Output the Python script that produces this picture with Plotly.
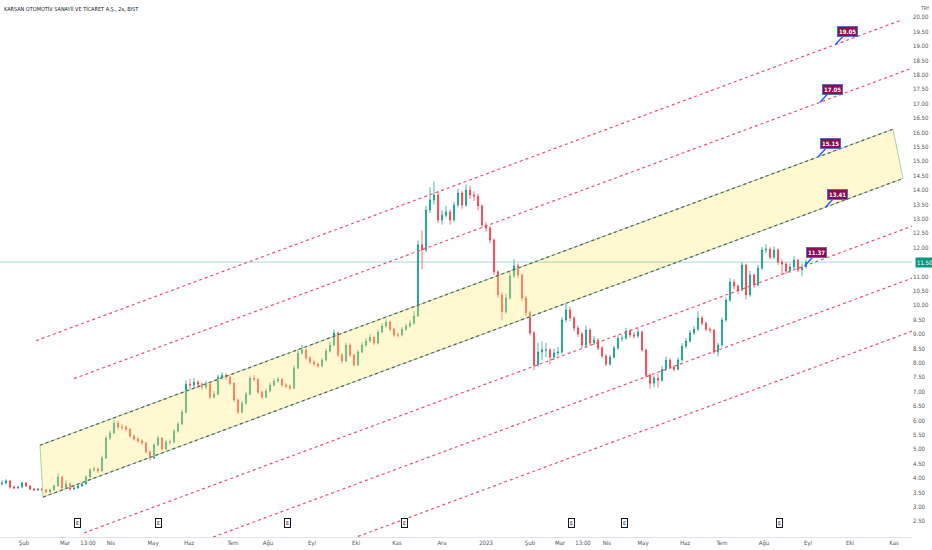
import plotly.graph_objects as go

# ---------------- data ----------------
first_open = 3.80
close = [3.83, 3.90, 3.69, 3.66, 3.69, 3.83, 3.73, 3.62, 3.59, 3.62,
         3.59, 3.52, 3.59, 3.73, 4.04, 3.66, 3.80, 3.62, 3.66, 3.73,
         3.80, 4.04, 4.29, 4.32, 4.25, 4.70, 5.39, 5.57, 5.91, 5.77,
         5.77, 5.70, 5.46, 5.36, 5.29, 5.22, 4.91, 4.70, 5.15, 5.39,
         5.01, 5.25, 5.25, 5.63, 5.88, 6.29, 7.26, 7.23, 7.33, 7.26,
         7.16, 7.26, 6.81, 6.91, 7.50, 7.57, 7.50, 7.29, 6.71, 6.29,
         6.60, 6.91, 7.47, 7.43, 6.98, 6.81, 7.02, 7.23, 7.37, 7.43,
         7.23, 7.19, 7.12, 7.82, 8.34, 8.45, 8.17, 8.03, 7.96, 7.89,
         8.10, 8.41, 8.62, 9.04, 8.27, 8.07, 8.62, 8.27, 7.93, 8.38,
         8.62, 8.76, 8.89, 8.69, 9.07, 9.28, 9.42, 9.17, 8.97, 8.97,
         9.17, 9.28, 9.38, 9.63, 12.10, 11.92, 13.31, 13.66, 13.83, 12.96,
         13.13, 13.24, 12.96, 13.48, 13.90, 13.48, 14.00, 13.83, 13.79, 13.45,
         12.79, 12.68, 12.27, 11.16, 10.36, 9.77, 10.25, 11.02, 11.36, 11.05,
         10.25, 9.74, 9.04, 7.93, 8.38, 8.45, 8.45, 8.20, 8.34, 8.38,
         9.49, 9.84, 9.56, 9.21, 9.00, 8.62, 9.14, 8.69, 8.79, 8.52,
         8.24, 7.96, 8.20, 8.52, 8.86, 8.86, 9.11, 8.97, 8.93, 9.07,
         8.45, 7.57, 7.29, 7.47, 7.40, 7.78, 8.10, 7.85, 7.78, 8.10,
         8.58, 8.76, 9.04, 9.17, 9.56, 9.38, 9.17, 9.14, 8.38, 8.62,
         9.49, 10.18, 10.81, 10.67, 10.53, 11.40, 10.36, 11.05, 10.71, 11.29,
         11.92, 11.95, 11.67, 11.92, 11.50, 11.43, 11.19, 11.33, 11.57, 11.23,
         11.33, 11.50]
high = [3.92, 3.96, 3.93, 3.75, 3.74, 3.88, 3.86, 3.76, 3.66, 3.66,
        3.65, 3.62, 3.63, 3.78, 4.16, 4.08, 3.92, 3.84, 3.72, 3.78,
        3.85, 4.10, 4.35, 4.40, 4.36, 4.78, 5.48, 5.66, 6.02, 5.98,
        5.88, 5.84, 5.74, 5.52, 5.42, 5.35, 5.26, 4.96, 5.22, 5.48,
        5.42, 5.32, 5.34, 5.70, 5.95, 6.38, 7.40, 7.45, 7.48, 7.40,
        7.32, 7.38, 7.30, 7.02, 7.60, 7.68, 7.64, 7.55, 7.33, 6.76,
        6.68, 7.00, 7.56, 7.58, 7.48, 7.04, 7.10, 7.32, 7.46, 7.52,
        7.48, 7.30, 7.26, 7.92, 8.48, 8.62, 8.52, 8.24, 8.10, 8.02,
        8.18, 8.50, 8.72, 9.16, 9.08, 8.34, 8.70, 8.68, 8.32, 8.46,
        8.72, 8.86, 9.00, 8.95, 9.16, 9.38, 9.52, 9.47, 9.22, 9.06,
        9.25, 9.36, 9.48, 9.80, 12.25, 12.60, 13.45, 14.10, 14.30, 13.95,
        13.30, 13.45, 13.32, 13.60, 14.05, 13.98, 14.20, 14.15, 13.96, 13.88,
        13.50, 12.90, 12.75, 12.32, 11.22, 10.45, 10.40, 11.15, 11.60, 11.45,
        11.10, 10.32, 9.80, 9.10, 8.70, 8.75, 8.70, 8.52, 8.50, 8.55,
        9.60, 10.05, 9.95, 9.62, 9.30, 9.08, 9.30, 9.20, 8.92, 8.86,
        8.58, 8.30, 8.28, 8.60, 8.95, 8.98, 9.22, 9.18, 9.08, 9.20,
        9.12, 8.50, 7.64, 7.56, 7.62, 7.90, 8.22, 8.16, 7.92, 8.18,
        8.68, 8.86, 9.14, 9.28, 9.80, 9.64, 9.44, 9.24, 9.18, 8.70,
        9.58, 10.26, 10.95, 10.90, 10.72, 11.50, 11.45, 11.20, 11.10, 11.40,
        12.02, 12.12, 12.02, 12.05, 11.98, 11.60, 11.50, 11.45, 11.70, 11.62,
        11.45, 11.58]
low = [3.74, 3.78, 3.64, 3.61, 3.62, 3.66, 3.69, 3.58, 3.55, 3.55,
       3.54, 3.48, 3.49, 3.56, 3.70, 3.58, 3.62, 3.57, 3.58, 3.63,
       3.70, 3.77, 4.00, 4.22, 4.18, 4.22, 4.66, 5.32, 5.52, 5.68,
       5.66, 5.62, 5.40, 5.30, 5.22, 5.15, 4.85, 4.64, 4.66, 5.10,
       4.95, 4.97, 5.16, 5.20, 5.58, 5.84, 6.25, 7.10, 7.15, 7.12,
       7.05, 7.08, 6.74, 6.75, 6.88, 7.42, 7.40, 7.22, 6.64, 6.22,
       6.24, 6.55, 6.87, 7.35, 6.92, 6.74, 6.77, 6.98, 7.18, 7.30,
       7.16, 7.12, 7.05, 7.08, 7.78, 8.28, 8.10, 7.96, 7.88, 7.82,
       7.84, 8.05, 8.36, 8.58, 8.20, 7.98, 8.02, 8.20, 7.86, 7.90,
       8.33, 8.56, 8.70, 8.62, 8.64, 9.02, 9.22, 9.10, 8.90, 8.88,
       8.92, 9.12, 9.22, 9.33, 9.60, 11.25, 11.85, 13.20, 13.50, 12.85,
       12.80, 13.05, 12.80, 12.90, 13.40, 13.35, 13.42, 13.70, 13.62, 13.30,
       12.70, 12.55, 12.15, 11.05, 10.25, 9.48, 9.70, 10.20, 10.95, 10.95,
       10.15, 9.62, 8.95, 7.75, 7.85, 8.10, 8.20, 7.95, 8.10, 8.25,
       8.30, 9.40, 9.45, 9.10, 8.90, 8.52, 8.58, 8.60, 8.62, 8.44,
       8.16, 7.88, 7.90, 8.15, 8.46, 8.74, 8.80, 8.88, 8.84, 8.86,
       8.38, 7.48, 7.10, 7.16, 7.14, 7.34, 7.72, 7.78, 7.70, 7.74,
       8.05, 8.50, 8.70, 8.98, 9.10, 9.30, 9.10, 9.05, 8.30, 8.22,
       8.56, 9.42, 10.12, 10.55, 10.40, 10.48, 10.20, 10.30, 10.60, 10.66,
       11.24, 11.80, 11.58, 11.60, 11.40, 11.05, 11.08, 11.12, 11.26, 11.15,
       11.00, 11.28]
open_ = [first_open] + close[:-1]
bar_index = list(range(len(close)))

# time axis labels (bar index positions)
month_pos = [5.5, 15.75, 21.5, 27.25, 37.75, 46.75, 57.75, 66.5, 77.5, 88.5,
             98.75, 110, 121, 132, 139.5, 145.25, 151.25, 160.25, 170.75, 180,
             190.5, 201.5, 212, 223]
month_lbl = ["Şub", "Mar", "13:00", "Nis", "May", "Haz", "Tem", "Ağu", "Eyl", "Eki",
             "Kas", "Ara", "2023", "Şub", "Mar", "13:00", "Nis", "May", "Haz", "Tem",
             "Ağu", "Eyl", "Eki", "Kas"]
# price axis labels (11.50 sits under the last-price label)
price_ticks = [2.5, 3.0, 3.5, 4.0, 4.5, 5.0, 5.5, 6.0, 6.5, 7.0, 7.5, 8.0, 8.5,
               9.0, 9.5, 10.0, 10.5, 11.0, 12.0, 12.5, 13.0, 13.5, 14.0, 14.5,
               15.0, 15.5, 16.0, 16.5, 17.0, 17.5, 18.0, 18.5, 19.0, 19.5, 20.0]

# drawn channel (bar index, price) anchors
yellow_upper = [(9.5, 5.141), (222.75, 16.115)]
yellow_lower = [(10.25, 3.340), (225.25, 14.404)]
red_lines = [
    [(8.5, 8.770), (224.75, 19.898)],
    [(18.0, 7.454), (228.5, 18.286)],
    [(20.5, 2.096), (228.5, 12.800)],
    [(52.75, 1.950), (228.5, 10.994)],
    [(89.0, 1.975), (228.5, 9.154)],
]
# price labels placed on the channel lines
badge_x = [208.3, 204.5, 204.0, 205.9, 200.7]
badge_val = [19.05, 17.05, 15.15, 13.41, 11.37]
# earnings events (bar index)
event_x = [18.75, 39.0, 71.25, 100.5, 142.25, 155.5, 194.25]

last_price = close[-1]
title = "KARSAN OTOMOTİV SANAYİİ VE TİCARET A.Ş., 2s, BIST"

FONT = "Liberation Sans Narrow, DejaVu Sans Condensed, Arial Narrow, sans-serif"
UP, DOWN = "#089981", "#f23645"

fig = go.Figure()

# yellow channel fill
fig.add_trace(go.Scatter(
    x=[yellow_upper[0][0], yellow_upper[1][0], yellow_lower[1][0], yellow_lower[0][0], yellow_upper[0][0]],
    y=[yellow_upper[0][1], yellow_upper[1][1], yellow_lower[1][1], yellow_lower[0][1], yellow_upper[0][1]],
    mode="lines", fill="toself", fillcolor="rgba(255,236,120,0.35)",
    line=dict(color="#a5d6a7", width=1), hoverinfo="skip", showlegend=False))
for seg in (yellow_upper, yellow_lower):
    fig.add_trace(go.Scatter(x=[p[0] for p in seg], y=[p[1] for p in seg], mode="lines",
                             line=dict(color="#56635a", width=1.2, dash="dot"),
                             hoverinfo="skip", showlegend=False))
for seg in red_lines:
    fig.add_trace(go.Scatter(x=[p[0] for p in seg], y=[p[1] for p in seg], mode="lines",
                             line=dict(color="#f0506e", width=1.2, dash="dot"),
                             hoverinfo="skip", showlegend=False))

# last price line
fig.add_hline(y=last_price, line=dict(color="rgba(8,153,129,0.35)", width=1))

fig.add_trace(go.Candlestick(
    x=bar_index, open=open_, high=high, low=low, close=close,
    increasing=dict(line=dict(color=UP, width=0.7), fillcolor=UP),
    decreasing=dict(line=dict(color=DOWN, width=0.7), fillcolor=DOWN),
    whiskerwidth=0, showlegend=False))

annotations = []
for bx, bv in zip(badge_x, badge_val):
    annotations.append(dict(
        x=bx, y=bv, xref="x", yref="y", text=f"<b>{bv:.2f}</b>",
        showarrow=True, arrowhead=0, arrowwidth=1.5, arrowcolor="#2962ff",
        ax=12, ay=-13, bgcolor="#880e4f", bordercolor="#5c6bc0", borderwidth=1,
        borderpad=1, font=dict(family=FONT, size=6, color="white")))
for ex in event_x:
    annotations.append(dict(
        x=ex, y=0.017, xref="x", yref="paper", text="E", showarrow=False,
        bgcolor="white", bordercolor="#131722", borderwidth=1, borderpad=1,
        font=dict(family=FONT, size=5, color="#131722")))
annotations.append(dict(
    x=1, y=last_price, xref="paper", yref="y", xanchor="left", xshift=3,
    text=f"{last_price:.2f}", showarrow=False, bgcolor=UP, borderpad=1,
    font=dict(family=FONT, size=6, color="white")))
annotations.append(dict(
    x=1, y=1, xref="paper", yref="paper", xanchor="left", yanchor="top", xshift=6, yshift=-3,
    text="TRY", showarrow=False, font=dict(family=FONT, size=5, color="#555")))
annotations.append(dict(
    x=0, y=1, xref="paper", yref="paper", xanchor="left", yanchor="top", xshift=2, yshift=-3,
    text=title, showarrow=False, font=dict(family=FONT, size=5.5, color="#131722")))

fig.update_layout(
    width=932, height=550,
    margin=dict(l=0, r=20, t=0, b=13, autoexpand=False),
    paper_bgcolor="white", plot_bgcolor="white",
    font=dict(family=FONT, size=6, color="#555"),
    annotations=annotations,
    showlegend=False,
    boxgap=0.6,
    xaxis=dict(range=[-0.5, 227.5], tickmode="array", tickvals=month_pos, ticktext=month_lbl,
               showgrid=False, zeroline=False, showline=True, linecolor="#e0e3eb",
               ticks="", ticklen=0, automargin=False,
               tickfont=dict(size=6, color="#555"), rangeslider=dict(visible=False)),
    yaxis=dict(range=[1.955, 20.60], side="right", tickmode="array", tickvals=price_ticks,
               tickformat=".2f", showgrid=False, zeroline=False, ticks="", ticklen=0,
               automargin=False, tickfont=dict(size=6, color="#555")),
)

fig.write_html("out.html", config={"displayModeBar": False},
               post_script="document.body.style.margin='0';document.body.style.padding='0';")
